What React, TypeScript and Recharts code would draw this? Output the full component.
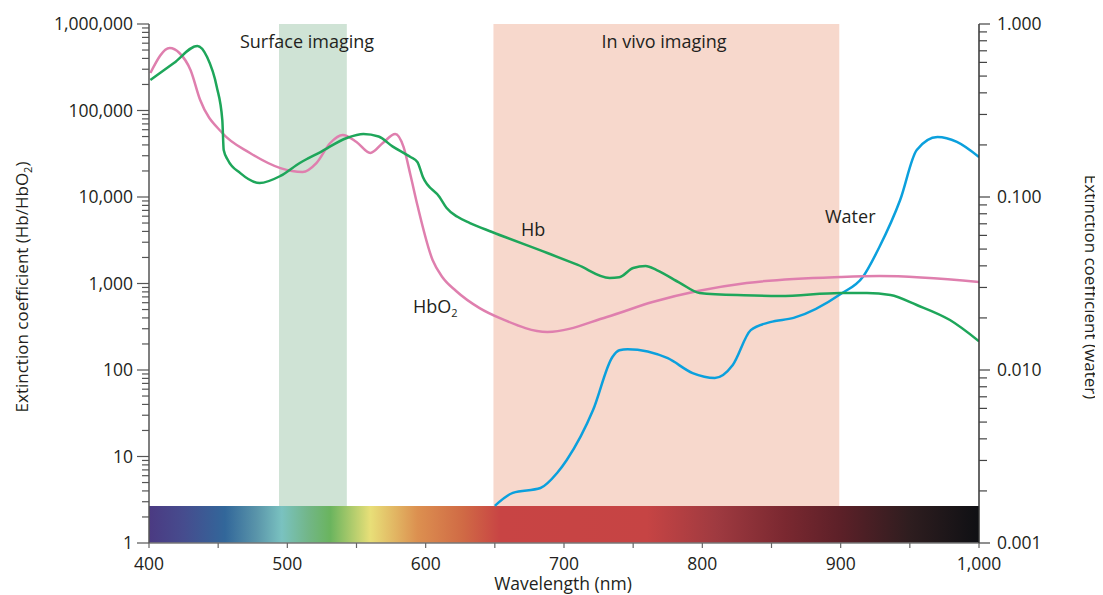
import React from 'react'
import { LineChart, Line, XAxis, YAxis, ReferenceArea } from 'recharts'

// Hb (deoxyhaemoglobin), left axis
const hbNm = [401, 418, 435, 442, 449, 453, 454, 457, 466, 480, 495, 509, 524, 543, 555, 566, 576, 589, 594, 598, 610, 615, 623, 632, 648, 688, 710, 733, 740, 750, 759, 767, 784, 798, 830, 856, 900, 919, 936, 955, 979, 1000]
const hbValues = [225000, 354000, 557000, 415000, 187000, 77600, 34900, 26800, 18900, 14500, 17500, 24700, 33100, 48100, 53500, 50000, 38500, 29000, 25400, 17000, 10000, 7500, 5900, 5000, 3940, 2250, 1640, 1160, 1180, 1510, 1590, 1430, 1010, 777, 730, 717, 777, 777, 736, 564, 378, 215]

// HbO2 (oxyhaemoglobin), left axis
const hbo2Nm = [401, 415, 422, 430, 437, 453, 473, 495, 511, 521, 531, 540, 550, 560, 569, 578, 584, 589, 594, 605, 612, 622, 639, 655, 688, 731, 764, 832, 900, 928, 1000]
const hbo2Values = [271000, 528000, 462000, 294000, 132000, 54900, 32300, 21600, 19500, 24700, 42100, 52100, 43200, 32300, 42100, 53500, 37900, 17970, 8080, 1870, 1190, 820, 520, 390, 275, 410, 611, 1013, 1190, 1220, 1040]

// water, right axis
const waterNm = [650, 663, 683, 695, 702, 721, 735, 740, 746, 775, 793, 809, 822, 835, 849, 866, 900, 916, 928, 943, 955, 970, 984, 1000]
const waterValues = [0.00164, 0.00195, 0.00208, 0.00254, 0.00302, 0.00587, 0.0119, 0.013, 0.0132, 0.0117, 0.0096, 0.009, 0.0107, 0.017, 0.0189, 0.02, 0.0275, 0.0345, 0.0514, 0.0961, 0.187, 0.222, 0.208, 0.17]

const xTicks = [400, 450, 500, 550, 600, 650, 700, 750, 800, 850, 900, 950, 1000]
const xLabelled = [400, 500, 600, 700, 800, 900, 1000]
const leftMajor = [1, 10, 100, 1000, 10000, 100000, 1000000]
const rightMajor = [0.001, 0.01, 0.1, 1]

// imaging windows (nm)
const surfaceWindow = [494, 543]
const inVivoWindow = [649, 899]

const spectrumStops = [
  { nm: 400, color: '#4b3a82' },
  { nm: 425, color: '#464c8e' },
  { nm: 455, color: '#32679a' },
  { nm: 478, color: '#5a95aa' },
  { nm: 496, color: '#7ac2c0' },
  { nm: 515, color: '#72b688' },
  { nm: 531, color: '#6ab45e' },
  { nm: 560, color: '#e8df78' },
  { nm: 594, color: '#dc9050' },
  { nm: 627, color: '#d06a45' },
  { nm: 654, color: '#c84444' },
  { nm: 760, color: '#c64444' },
  { nm: 810, color: '#9f3a40' },
  { nm: 860, color: '#7a2830' },
  { nm: 900, color: '#5c2028' },
  { nm: 950, color: '#2e1d1f' },
  { nm: 1000, color: '#0f1014' },
]

const zip = (nm: number[], v: number[]) => nm.map((n, i) => ({ nm: n, v: v[i] }))
const hbData = zip(hbNm, hbValues)
const hbo2Data = zip(hbo2Nm, hbo2Values)
const waterData = zip(waterNm, waterValues)

const minorTicks = (majors: number[]) => {
  const out: number[] = []
  majors.forEach((m, i) => {
    out.push(m)
    if (i < majors.length - 1) for (let k = 2; k <= 9; k++) out.push(+(m * k).toPrecision(3))
  })
  return out
}
const leftTicks = minorTicks(leftMajor)
const rightTicks = minorTicks(rightMajor)

const FONT = '"Open Sans", "Noto Sans", sans-serif'
const INK = '#231f20'
const TICK_FS = 17.5
const LABEL_FS = 18

const LeftTick = ({ x, y, payload }: any) => {
  const major = leftMajor.includes(payload.value)
  return (
    <g>
      <line x1={x - (major ? 12 : 7)} x2={x} y1={y} y2={y} stroke="#555" strokeWidth={1.2} />
      {major && (
        <text x={x - 16} y={y} dy={6} textAnchor="end" fontSize={TICK_FS} fill={INK} fontFamily={FONT}>
          {payload.value.toLocaleString('en-US')}
        </text>
      )}
    </g>
  )
}

const RightTick = ({ x, y, payload }: any) => {
  const major = rightMajor.includes(payload.value)
  return (
    <g>
      <line x1={x} x2={x + (major ? 11 : 8)} y1={y} y2={y} stroke="#444" strokeWidth={1.2} />
      {major && (
        <text x={x + 18} y={y} dy={6} textAnchor="start" fontSize={TICK_FS} fill={INK} fontFamily={FONT}>
          {payload.value.toFixed(3)}
        </text>
      )}
    </g>
  )
}

const XTick = ({ x, y, payload }: any) => {
  const labelled = xLabelled.includes(payload.value)
  return (
    <g>
      <line x1={x} x2={x} y1={y} y2={y + 5} stroke="#666" strokeWidth={1.2} />
      {labelled && (
        <text x={x} y={y + 27} textAnchor="middle" fontSize={TICK_FS} fill={INK} fontFamily={FONT}>
          {payload.value.toLocaleString('en-US')}
        </text>
      )}
    </g>
  )
}

export default function App() {
  return (
    <div style={{ position: 'relative', width: 1095, height: 587, fontFamily: FONT }}>
      <style>{'html, body { overflow: hidden; }'}</style>
      <LineChart width={1095} height={587} margin={{ top: 16, right: 0, bottom: 0, left: 0 }}>
        <defs>
          <linearGradient id="spectrum" x1="0" y1="0" x2="1" y2="0">
            {spectrumStops.map((s) => (
              <stop key={s.nm} offset={(s.nm - 400) / 600} stopColor={s.color} />
            ))}
          </linearGradient>
        </defs>
        <XAxis
          dataKey="nm"
          type="number"
          domain={[400, 1000]}
          ticks={xTicks}
          interval={0}
          height={52}
          tickSize={0}
          tickMargin={0}
          tickLine={false}
          tick={XTick}
          axisLine={{ stroke: '#777', strokeWidth: 1.5 }}
          allowDataOverflow
        />
        <YAxis
          yAxisId="left"
          scale="log"
          domain={[1, 1000000]}
          ticks={leftTicks}
          interval={0}
          width={141}
          tickSize={0}
          tickMargin={0}
          tickLine={false}
          tick={LeftTick}
          axisLine={{ stroke: '#555', strokeWidth: 1.5 }}
          allowDataOverflow
        />
        <YAxis
          yAxisId="right"
          orientation="right"
          scale="log"
          domain={[0.001, 1]}
          ticks={rightTicks}
          interval={0}
          width={124}
          tickSize={0}
          tickMargin={0}
          tickLine={false}
          tick={RightTick}
          axisLine={{ stroke: '#333', strokeWidth: 1.5 }}
          allowDataOverflow
        />
        <ReferenceArea yAxisId="left" x1={surfaceWindow[0]} x2={surfaceWindow[1]} y1={1} y2={1000000} fill="#cfe3d5" fillOpacity={1} stroke="none" />
        <ReferenceArea yAxisId="left" x1={inVivoWindow[0]} x2={inVivoWindow[1]} y1={1} y2={1000000} fill="#f7d8cc" fillOpacity={1} stroke="none" />
        <Line yAxisId="right" data={waterData} dataKey="v" type="monotone" stroke="#0ba0dd" strokeWidth={2.5} dot={false} isAnimationActive={false} />
        <Line yAxisId="left" data={hbo2Data} dataKey="v" type="monotone" stroke="#df7fae" strokeWidth={2.5} dot={false} isAnimationActive={false} />
        <Line yAxisId="left" data={hbData} dataKey="v" type="monotone" stroke="#1ea65a" strokeWidth={2.5} dot={false} isAnimationActive={false} />
        <ReferenceArea yAxisId="left" x1={400} x2={1000} y1={1} y2={2.68} fill="url(#spectrum)" fillOpacity={1} stroke="none" />
      </LineChart>

      {/* annotations and axis titles, on top of the shaded windows */}
      <svg width={1095} height={595} style={{ position: 'absolute', left: 0, top: 0, overflow: 'visible', pointerEvents: 'none' }}>
        <g fontFamily={FONT} fill={INK} fontSize={LABEL_FS}>
          <text x={299} y={40} textAnchor="middle">Surface imaging</text>
          <text x={656} y={40} textAnchor="middle">In vivo imaging</text>
          <text x={513} y={228}>Hb</text>
          <text x={405} y={305}>
            HbO<tspan dy={4} fontSize={11}>2</tspan>
          </text>
          <text x={817} y={215}>Water</text>
          <text x={555} y={582} textAnchor="middle" fontSize={17.5}>Wavelength (nm)</text>
          <text x={20} y={279} transform="rotate(-90, 20, 279)" textAnchor="middle" fontSize={17}>
            Extinction coefficient (Hb/HbO<tspan dy={4} fontSize={11}>2</tspan><tspan dy={-4}>)</tspan>
          </text>
          <text x={1077} y={279} transform="rotate(90, 1077, 279)" textAnchor="middle" fontSize={17}>
            Extinction coefficient (water)
          </text>
        </g>
      </svg>
    </div>
  )
}
